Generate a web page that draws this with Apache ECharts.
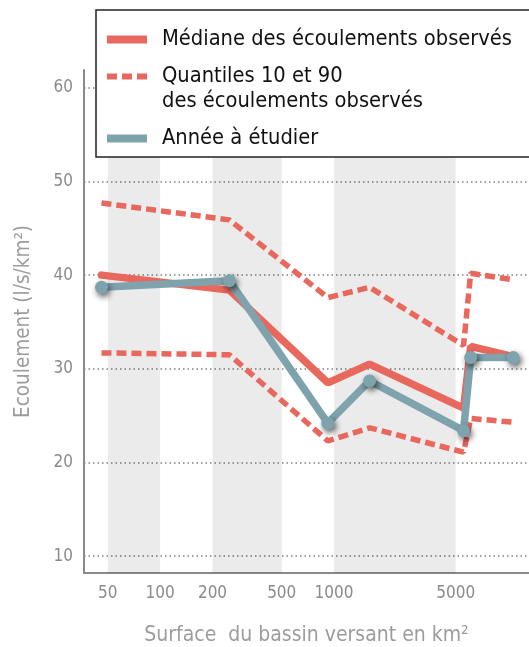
<!DOCTYPE html>
<html>
<head>
<meta charset="utf-8">
<script src="https://cdn.jsdelivr.net/npm/echarts@6/dist/echarts.min.js"></script>
<style>
html, body { margin: 0; padding: 0; background: #fff; }
#chart { width: 529px; height: 647px; }
</style>
</head>
<body>
<div id="chart"></div>
<script>
const areas = [46, 250, 920, 1600, 5550, 6100, 10700]
const median = [40.0, 38.4, 28.5, 30.5, 25.8, 32.4, 31.3]
const q90 = [47.7, 45.9, 37.6, 38.7, 32.5, 40.2, 39.5]
const q10 = [31.7, 31.5, 22.3, 23.7, 21.1, 24.7, 24.3]
const annee = [38.7, 39.4, 24.2, 28.7, 23.4, 31.2, 31.2]
const xTicks = [50, 100, 200, 500, 1000, 5000]
const yTicks = [10, 20, 30, 40, 50, 60]
const bands = [[50, 100], [200, 500], [1000, 5000]]

const NAME_MED = 'Médiane des écoulements observés'
const NAME_Q = 'Quantiles 10 et 90\ndes écoulements observés'
const NAME_AN = 'Année à étudier'

const FONT = "'DejaVu Sans Condensed', 'Liberation Sans Narrow', sans-serif"
const RED = '#e8685e'
const BLUE = '#7fa3ad'
const GREY = '#8a8a8a'

const pairs = vals => areas.map((a, i) => [a, vals[i]])

const chart = echarts.init(document.getElementById('chart'))
chart.setOption({
  animation: false,
  textStyle: { fontFamily: FONT },
  grid: { left: 84, right: 0, top: 70, bottom: 74, outerBoundsMode: 'none', containLabel: false },
  legend: {
    orient: 'vertical',
    left: 96,
    top: 10,
    padding: [14, 60, 3, 11],
    backgroundColor: '#fff',
    borderColor: '#222',
    borderWidth: 1.5,
    borderRadius: 0,
    itemWidth: 40,
    itemHeight: 31,
    itemGap: 9,
    itemStyle: { borderWidth: 0, shadowBlur: 0, shadowOffsetX: 0, shadowOffsetY: 0 },
    textStyle: { fontSize: 21.7, color: '#111', lineHeight: 25, padding: [0, 0, 0, 10] },
    data: [
      { name: NAME_MED, icon: 'path://M0,0 M0,31 M0,11.5 h40 v8 h-40 z' },
      { name: NAME_Q, icon: 'path://M0,0 h10 v6 h-10 z M15,0 h10 v6 h-10 z M30,0 h10 v6 h-10 z M0,31' },
      { name: NAME_AN, icon: 'path://M0,0 M0,31 M0,11.5 h40 v8 h-40 z' }
    ]
  },
  xAxis: {
    type: 'log',
    logBase: 10,
    min: 36.5,
    max: 13200,
    axisLine: { show: true, lineStyle: { color: GREY, width: 2 } },
    axisTick: { show: false },
    splitLine: { show: false },
    axisLabel: { customValues: xTicks, color: GREY, fontSize: 17, margin: 12, formatter: v => String(v) },
    name: 'Surface  du bassin versant en km²',
    nameLocation: 'middle',
    nameGap: 52,
    nameTextStyle: { fontSize: 21, color: '#9c9c9c' }
  },
  yAxis: {
    type: 'value',
    min: 8.2,
    max: 61.9,
    axisLine: { show: true, lineStyle: { color: GREY, width: 2 } },
    axisTick: { show: false, customValues: yTicks },
    axisLabel: { customValues: yTicks, color: GREY, fontSize: 17, margin: 11 },
    splitLine: { show: true, lineStyle: { color: '#808080', width: 1.5, type: [1.5, 3] } },
    name: 'Ecoulement (l/s/km²)',
    nameLocation: 'middle',
    nameGap: 50,
    nameTextStyle: { fontSize: 20.5, color: '#9c9c9c' }
  },
  series: [
    {
      name: NAME_Q,
      type: 'line',
      showSymbol: false,
      itemStyle: { color: RED },
      lineStyle: { color: RED, width: 5.5, type: [10, 5] },
      markArea: {
        silent: true,
        itemStyle: { color: 'rgba(0,0,0,0.078)' },
        data: bands.map(b => [{ xAxis: b[0] }, { xAxis: b[1] }])
      },
      data: pairs(q10)
    },
    {
      name: NAME_Q,
      type: 'line',
      showSymbol: false,
      itemStyle: { color: RED },
      lineStyle: { color: RED, width: 5.5, type: [10, 5] },
      data: pairs(q90)
    },
    {
      name: NAME_MED,
      type: 'line',
      showSymbol: false,
      itemStyle: { color: RED },
      lineStyle: { color: RED, width: 7.5, cap: 'round' },
      data: pairs(median)
    },
    {
      name: NAME_AN,
      type: 'line',
      symbol: 'circle',
      symbolSize: 13,
      itemStyle: {
        color: BLUE,
        shadowBlur: 6,
        shadowColor: 'rgba(0,0,0,0.65)',
        shadowOffsetX: 2,
        shadowOffsetY: 3
      },
      lineStyle: { color: BLUE, width: 7.5, cap: 'round' },
      data: pairs(annee)
    }
  ]
})
</script>
</body>
</html>
